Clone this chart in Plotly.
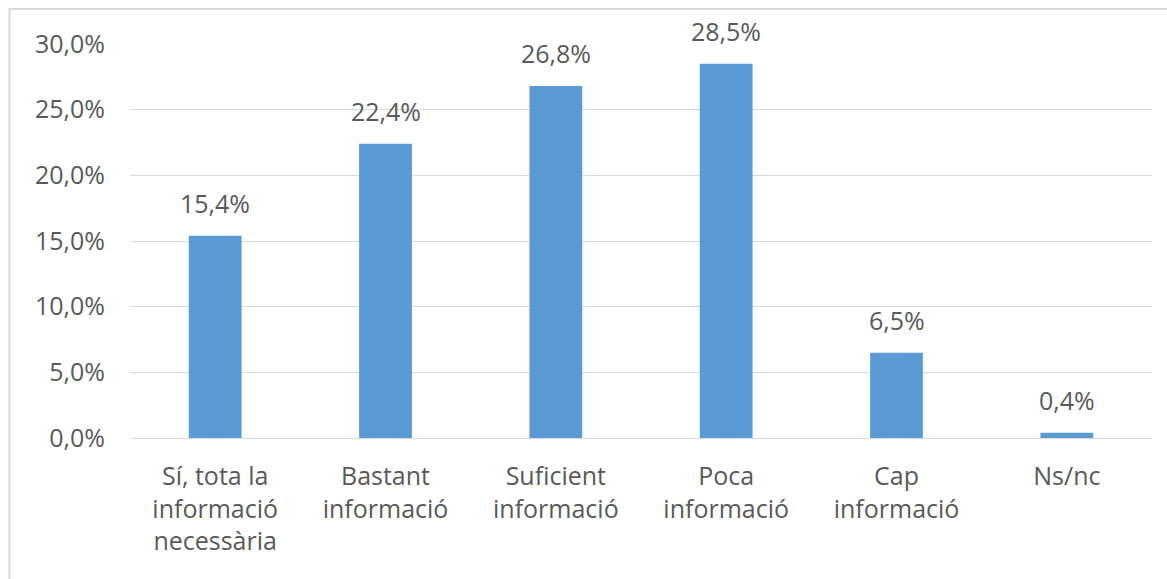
import plotly.graph_objects as go

categories = ["Sí, tota la<br>informació<br>necessària", "Bastant<br>informació",
              "Suficient<br>informació", "Poca<br>informació", "Cap<br>informació", "Ns/nc"]
values = [15.4, 22.4, 26.8, 28.5, 6.5, 0.4]
yticks = [0, 5, 10, 15, 20, 25, 30]

FONT = "Open Sans"
GRAY = "#595959"
SIZE = 25

W, H = 1167, 579
ML, MT, MR, MB = 130, 44, 15, 141
PW, PH = W - ML - MR, H - MT - MB

fig = go.Figure()
fig.add_trace(go.Bar(x=categories, y=values, marker_color="#5B9BD5",
                     marker_line_width=0, hoverinfo="skip"))

for c, v in zip(categories, values):
    fig.add_annotation(x=c, y=v, text=f"{v:.1f}%".replace(".", ","), showarrow=False,
                       yanchor="bottom", yshift=14,
                       font=dict(family=FONT, size=SIZE, color=GRAY))

fig.add_shape(type="rect", xref="paper", yref="paper",
              x0=(9.5 - ML) / PW, x1=1.3, y0=-0.6, y1=1 + (MT - 9) / PH,
              line=dict(color="#D9D9D9", width=2), layer="below")

fig.update_layout(
    width=W, height=H,
    margin=dict(l=ML, r=MR, t=MT, b=MB, pad=0),
    paper_bgcolor="white", plot_bgcolor="white",
    bargap=0.69,
    showlegend=False,
    font=dict(family=FONT, color=GRAY),
)
fig.update_yaxes(range=[0, 30], tickvals=yticks,
                 ticktext=[f"{t:.1f}%".replace(".", ",") for t in yticks],
                 showgrid=True, gridcolor="#D9D9D9", gridwidth=1, zeroline=False,
                 showline=False, ticks="", ticklabelstandoff=24,
                 tickfont=dict(family=FONT, size=SIZE, color=GRAY))
fig.update_xaxes(showline=True, linecolor="#D9D9D9", linewidth=1, ticks="",
                 tickfont=dict(family=FONT, size=SIZE, color=GRAY), ticklabelstandoff=16)

fig.write_html("out.html", config={"displayModeBar": False},
               post_script="document.body.style.margin='0';document.body.style.overflow='hidden';")
